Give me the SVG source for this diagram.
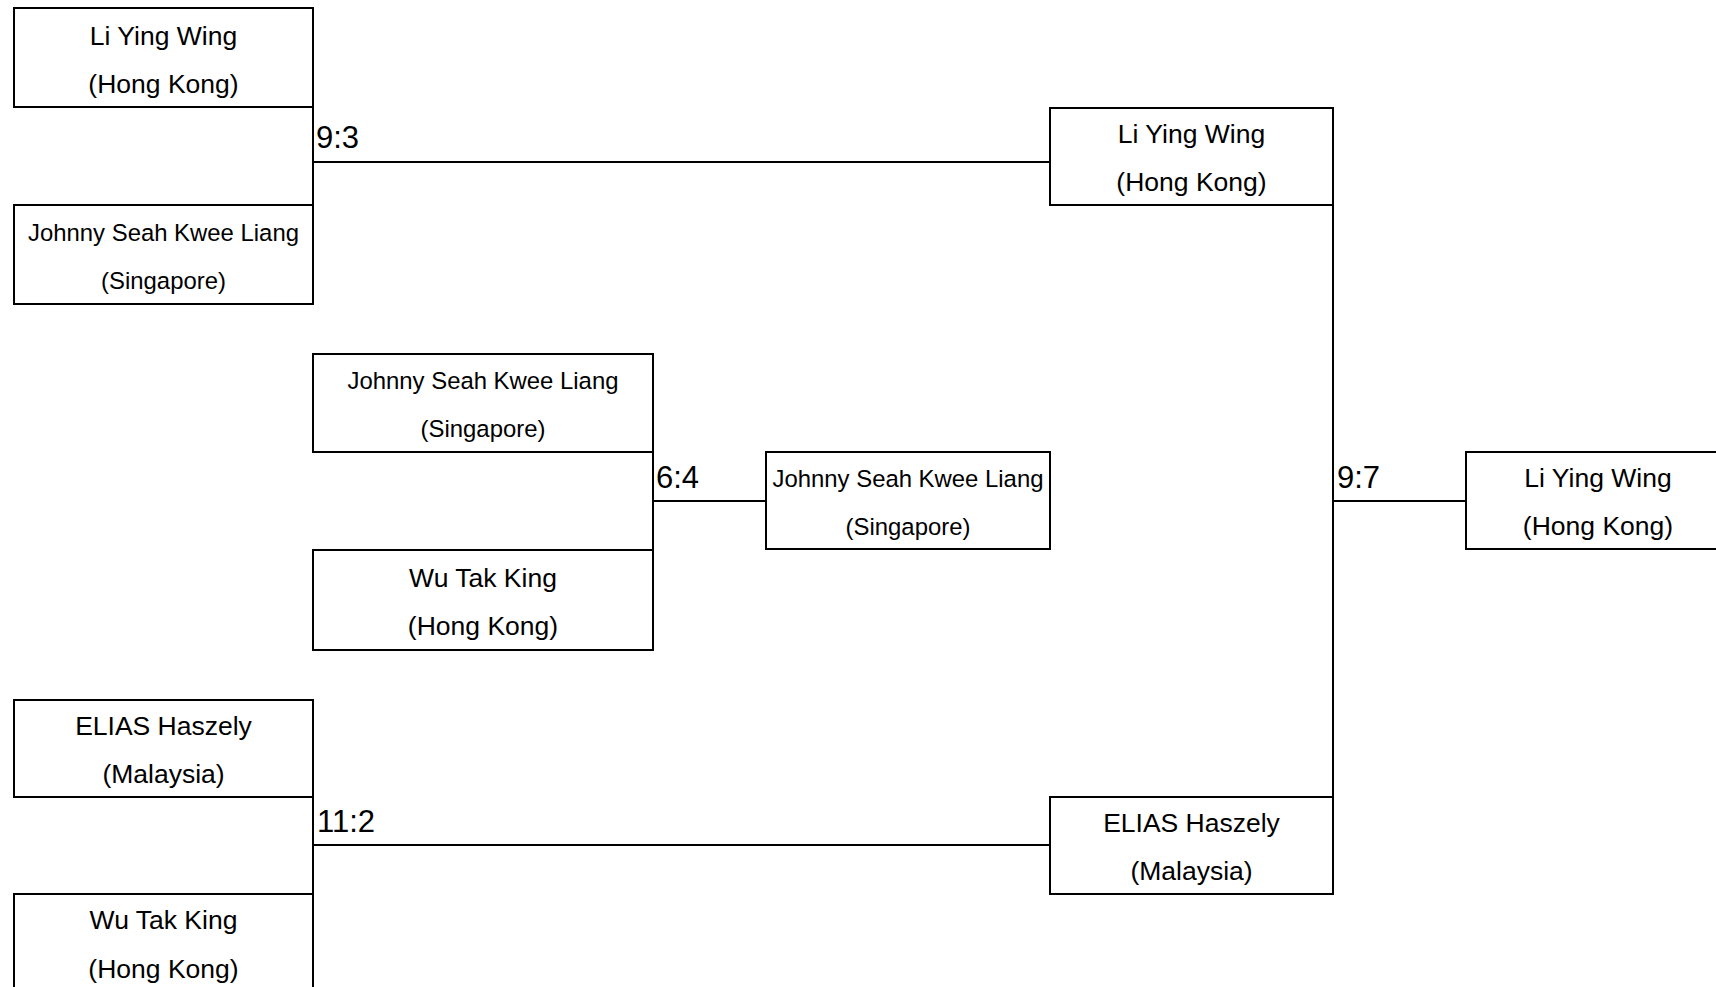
<svg xmlns="http://www.w3.org/2000/svg" width="1716" height="987" viewBox="0 0 1716 987">
<style>
.box{fill:#fff;stroke:#000;stroke-width:2}
.ln{fill:none;stroke:#000;stroke-width:2}
text{font-family:"Liberation Sans",Arial,sans-serif;fill:#000}
.b{font-size:26.5px;text-anchor:middle}
.s{font-size:23.9px;text-anchor:middle}
.sc{font-size:31px}
</style>
<rect width="1716" height="987" fill="#fff"/>
<g id="connectors">
<path class="ln" d="M313 107V205M313 162H1050"/>
<path class="ln" d="M653 452V550M653 501H766"/>
<path class="ln" d="M313 797V894M313 845H1050"/>
<path class="ln" d="M1333 205V797M1333 501H1466"/>
</g>
<g id="n1"><rect class="box" x="14" y="8" width="299" height="99"/>
<text class="b" x="163.5" y="44.5">Li Ying Wing</text>
<text class="b" x="163.5" y="92.5">(Hong Kong)</text></g>
<g id="n2"><rect class="box" x="14" y="205" width="299" height="99"/>
<text class="s" x="163.5" y="240.5">Johnny Seah Kwee Liang</text>
<text class="s" x="163.5" y="288.5">(Singapore)</text></g>
<g id="n3"><rect class="box" x="313" y="354" width="340" height="98"/>
<text class="s" x="483" y="389">Johnny Seah Kwee Liang</text>
<text class="s" x="483" y="437">(Singapore)</text></g>
<g id="n4"><rect class="box" x="313" y="550" width="340" height="100"/>
<text class="b" x="483" y="587">Wu Tak King</text>
<text class="b" x="483" y="635">(Hong Kong)</text></g>
<g id="n5"><rect class="box" x="766" y="452" width="284" height="97"/>
<text class="s" x="908" y="486.5">Johnny Seah Kwee Liang</text>
<text class="s" x="908" y="534.5">(Singapore)</text></g>
<g id="n6"><rect class="box" x="1050" y="108" width="283" height="97"/>
<text class="b" x="1191.5" y="142.5">Li Ying Wing</text>
<text class="b" x="1191.5" y="190.5">(Hong Kong)</text></g>
<g id="n7"><rect class="box" x="1050" y="797" width="283" height="97"/>
<text class="b" x="1191.5" y="832">ELIAS Haszely</text>
<text class="b" x="1191.5" y="880">(Malaysia)</text></g>
<g id="n8"><rect class="box" x="1466" y="452" width="270" height="97"/>
<text class="b" x="1598" y="487">Li Ying Wing</text>
<text class="b" x="1598" y="535">(Hong Kong)</text></g>
<g id="n9"><rect class="box" x="14" y="700" width="299" height="97"/>
<text class="b" x="163.5" y="735">ELIAS Haszely</text>
<text class="b" x="163.5" y="783">(Malaysia)</text></g>
<g id="n10"><rect class="box" x="14" y="894" width="299" height="100"/>
<text class="b" x="163.5" y="929">Wu Tak King</text>
<text class="b" x="163.5" y="977.5">(Hong Kong)</text></g>
<g id="scores">
<text class="sc" x="316" y="148">9:3</text>
<text class="sc" x="656" y="488">6:4</text>
<text class="sc" x="1337" y="488">9:7</text>
<text class="sc" x="317" y="832">11:2</text>
</g>
</svg>
